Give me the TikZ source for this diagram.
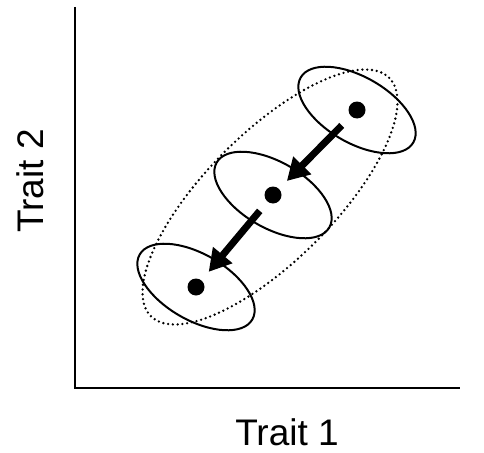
\documentclass[tikz,border=0pt]{standalone}
\usepackage{fontspec}
\setmainfont{Liberation Sans}
\usetikzlibrary{arrows.meta,shapes.geometric}
\begin{document}
\begin{tikzpicture}[x=1pt,y=-1pt,
  axis/.style={line width=1.5pt},
  popell/.style={ellipse,draw,line width=2pt,minimum width=130pt,minimum height=66pt,inner sep=0pt,rotate=-30},
  bigell/.style={ellipse,draw,line width=2.6pt,line cap=round,dash pattern=on 0pt off 4.8pt,minimum width=337pt,minimum height=128pt,inner sep=0pt,rotate=45},
  meandot/.style={circle,fill=black,minimum size=17pt,inner sep=0pt},
  meanshift/.style={line width=7pt,-{Triangle[length=22pt,width=24pt]}},
  lab/.style={font=\fontsize{37}{39}\selectfont,inner sep=0pt}]
\useasboundingbox (0,0) rectangle (484,452);
\coordinate (o) at (75,388);
\coordinate (ytop) at (75,7);
\coordinate (xend) at (460,388);
\draw[axis] (ytop) -- (o) -- (xend);
\node[lab] (xl) at (287,432) {Trait 1};
\node[lab,rotate=90] (yl) at (30,181) {Trait 2};
\node[bigell] (g) at (270,197) {};
\node[popell] (e1) at (357,110) {};
\node[popell] (e2) at (273,195) {};
\node[popell] (e3) at (196,287) {};
\node[meandot] (d1) at (357,110) {};
\node[meandot] (d2) at (273,195) {};
\node[meandot] (d3) at (196,287) {};
\draw[meanshift,shorten <=13pt,shorten >=11pt] (d1) -- (d2);
\draw[meanshift,shorten <=12pt,shorten >=11pt] (d2) -- (d3);
\end{tikzpicture}
\end{document}
